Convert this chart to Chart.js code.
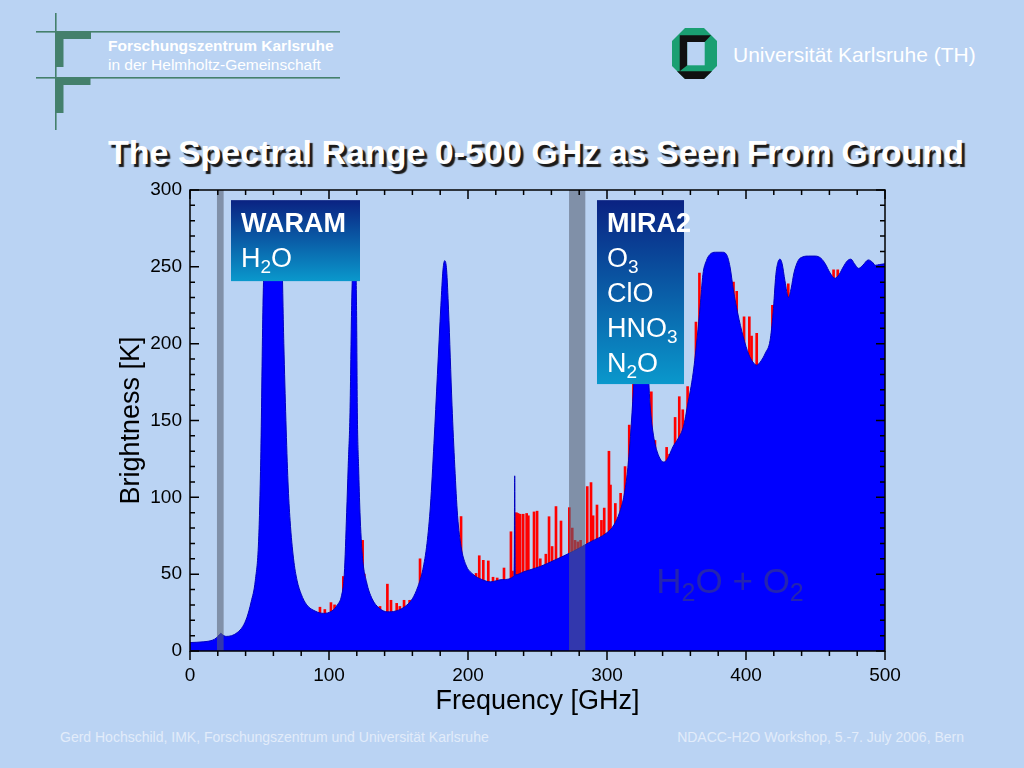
<!DOCTYPE html>
<html>
<head>
<meta charset="utf-8">
<script src="https://cdn.jsdelivr.net/npm/chart.js@4.4.0/dist/chart.umd.min.js"></script>
<style>
html,body{margin:0;padding:0}
body{width:1024px;height:768px;background:#bad3f3;position:relative;overflow:hidden;font-family:"Liberation Sans",Arial,sans-serif}
.t{position:absolute;white-space:nowrap;line-height:1;color:#fff}
#chart{position:absolute;left:0;top:0}
svg{position:absolute}
</style>
</head>
<body>
<svg style="left:0;top:0" width="360" height="140">
  <g fill="#44806c">
    <rect x="55" y="13" width="1.6" height="117"/>
    <rect x="36" y="31" width="304" height="1.6"/>
    <rect x="36" y="77" width="304" height="1.6"/>
    <rect x="55.5" y="32" width="35.5" height="7"/>
    <rect x="55.5" y="32" width="8" height="35"/>
    <rect x="55.5" y="78" width="35" height="7"/>
    <rect x="55.5" y="78" width="8" height="35"/>
  </g>
</svg>
<svg style="left:672px;top:28px" width="46" height="52">
  <polygon points="13,0 32,0 45,13 45,38 32,51 13,51 0,38 0,13" fill="#1a9f72"/>
  <polygon points="7.7,7.3 39,7.3 32.7,14 15.3,14 15.3,37.3 7.7,43.3" fill="#111"/>
  <polygon points="5,43.3 40,43.3 32,51 13,51" fill="#111"/>
  <rect x="15.3" y="14" width="17.4" height="23.3" fill="#bad3f3"/>
</svg>
<div class="t" style="left:108px;top:38px;font-size:15.5px;font-weight:bold">Forschungszentrum Karlsruhe</div>
<div class="t" style="left:108px;top:57px;font-size:15.5px">in der Helmholtz-Gemeinschaft</div>
<div class="t" style="left:733px;top:44px;font-size:21px">Universität Karlsruhe (TH)</div>
<div class="t" style="left:108px;top:135px;font-size:34px;font-weight:bold;text-shadow:3px 3px 1px #1a1a1a">The Spectral Range 0-500 GHz as Seen From Ground</div>
<div class="t" style="left:60px;top:730px;font-size:14px;color:#e2ecfa">Gerd Hochschild, IMK, Forschungszentrum und Universität Karlsruhe</div>
<div class="t" style="right:60px;top:730px;font-size:14px;color:#e2ecfa">NDACC-H2O Workshop, 5.-7. July 2006, Bern</div>
<canvas id="chart" width="1024" height="768"></canvas>
<script>
// H2O + O2 spectrum (blue)
var blueFreq = [0,10,16,19,21,22.2,23.5,26,30,34,
  38,41,44,47,49.5,51,52.5,54,56,60,
  64,66,67.5,69,70.5,72,74.5,77,80,84,
  90,96,102,106,109,111,112.7,113.8,115.1,116.3,117.3,118.3,119.3,119.8,120.4,121.3,122.3,124,127,
  131,136,142,148,154,160,164,167.5,170.5,173,175.5,178,180.5,182,183.3,
  184.6,186,188.5,190.5,192.5,195,198.5,203.5,210,216,
  225,233.2,233.6,234,240,252,262,276,288,300,
  305,309,312,314.5,316.5,318,320,322,324,325.5,
  327,329,331,333.5,336,339,341,343.5,347.5,
  351,355,358,362,365,367,369,371.5,374,378,383,386,388.5,390.9,
  394,398,402,405,407.7,411,414,417.3,
  419.5,421.5,423,424.5,426,428,430.5,432.5,
  434.5,437.5,441,445,450,454,457,460.5,464,467,
  470,473,475.5,478,481,484,488,491,493,496,500]
var blueTemp = [5.5,6,7,8.5,10.5,11.5,10.5,9.5,10,12,
  16,22,32,46,75,130,225,265,275,278,
  275,260,200,150,110,85,60,46,37,30,
  26,24.5,26,30,36,50,90,120,155,225,255,262,255,225,155,120,90,62,45,
  34,28,25.5,26,28.5,34,42,53,70,95,135,180,225,248,254,
  248,222,160,120,88,68,56,50,46.5,45,
  46.5,49,114,49.5,51.5,55,59,65,71,77,
  82,90,100,115,135,155,185,215,235,240,
  230,195,160,140,130,124,123,125,133,
  138,146,160,181,205,224,245,254,258,259.5,259.5,258,250,235,
  220,204.5,193,188,186,189,194,202,
  220,245,253,255,252,241,230,236,
  246,254,256.5,257,257,255.5,252,246,242.5,245,
  250,254,255,252,249,251,254.5,253,251,251.5,252]

// other species lines (red spikes)
var redFreq = [93.5,97,101.4,104,110.3,124.2,125.4,136.7,142,144.6,
  148.7,151,154,158,165.5,195,198,205.8,208.1,211,
  214.6,218,221,225.9,230.9,232,234.8,236,237.5,239.7,
  242.2,243.4,247.5,249.7,252,256,258.3,260.5,263.3,266.9,
  272.9,275,277,279,281,285.8,288.5,290,292.8,296,
  298,301.4,302.5,306,309.8,313,316,319,331.9,334.5,
  342.9,345,349,352,354.5,358,364,366.5,391,393.3,
  398.6,402.4,404,407.7,419,430.4,463,466]
var redTemp = [28.5,27,31.5,30,48.5,72,50,29,43.5,33,
  31,29,33,33,60,87.5,55,50.5,62,59,
  58.6,48,47.5,54,77.6,52,90,89.5,89,89,
  89.5,88,90.5,91,60,63,87.4,68,94,84.6,
  93.3,80,72,71,72,107,109.6,88,95,85,
  93,130,108,96,102.6,120,147,180,168.7,137,
  132.5,128,152,165.5,157,172,214,246,240,234,
  217.5,217.5,205,206.7,225,239,248,248]

var xTicks = [0,100,200,300,400,500]
var yTicks = [0,50,100,150,200,250,300]
var bands = [[19.4,24.2],[272.7,284.4]]
var waramLines = ['H_2O']
var miraLines = ['O_3','ClO','HNO_3','N_2O']

var FAM = '"Liberation Sans", Arial, sans-serif'

function chemText(ctx, s, x, y, size, bold){
  var parts = s.split(/_(\d)/)
  parts.forEach(function(p, i){
    if(!p) return
    var sub = i % 2 === 1
    var fs = sub ? Math.round(size*0.72) : size
    ctx.font = (bold ? 'bold ' : '') + fs + 'px ' + FAM
    ctx.fillText(p, x, sub ? y + size*0.22 : y)
    x += ctx.measureText(p).width
  })
}

function drawBox(ctx, xs, ys, b, title, lines){
  var l = xs.getPixelForValue(b.from), r = xs.getPixelForValue(b.to)
  var t = ys.getPixelForValue(b.top), bt = ys.getPixelForValue(b.bottom)
  var g = ctx.createLinearGradient(0, t, 0, bt)
  g.addColorStop(0, '#0a2282')
  g.addColorStop(1, '#0a98cc')
  ctx.fillStyle = g
  ctx.fillRect(l, t, r-l, bt-t)
  ctx.fillStyle = '#fff'
  ctx.textAlign = 'left'
  ctx.textBaseline = 'alphabetic'
  chemText(ctx, title, l+10, t+32, 27, true)
  lines.forEach(function(s, i){ chemText(ctx, s, l+10, t+32+35*(i+1), 27, false) })
}

var slideMarks = {
  id: 'slideMarks',
  afterDatasetsDraw: function(chart, args, opts){
    var ctx = chart.ctx, a = chart.chartArea, xs = chart.scales.x, ys = chart.scales.y
    ctx.save()
    // label on the blue area
    ctx.fillStyle = '#2424b0'
    ctx.textBaseline = 'alphabetic'
    chemText(ctx, 'H_2O + O_2', xs.getPixelForValue(opts.label.x), ys.getPixelForValue(opts.label.y), 35, false)
    // grey frequency bands
    ctx.fillStyle = 'rgba(86,95,113,0.58)'
    bands.forEach(function(b){
      var x0 = xs.getPixelForValue(b[0]), x1 = xs.getPixelForValue(b[1])
      ctx.fillRect(x0, a.top, x1-x0, a.bottom-a.top)
    })
    drawBox(ctx, xs, ys, opts.waram, 'WARAM', waramLines)
    drawBox(ctx, xs, ys, opts.mira, 'MIRA2', miraLines)
    // frame and ticks
    ctx.strokeStyle = '#000'
    ctx.lineWidth = 1.5
    ctx.strokeRect(a.left, a.top, a.right-a.left, a.bottom-a.top)
    ctx.beginPath()
    for(var v=0; v<=500; v+=20){
      var px = xs.getPixelForValue(v), len = v % 100 === 0 ? 9 : 5
      ctx.moveTo(px, a.bottom); ctx.lineTo(px, a.bottom+len)
      ctx.moveTo(px, a.top); ctx.lineTo(px, a.top+len)
    }
    for(var w=0; w<=300; w+=10){
      var py = ys.getPixelForValue(w), ln = w % 50 === 0 ? 9 : 5
      ctx.moveTo(a.left, py); ctx.lineTo(a.left+ln, py)
      ctx.moveTo(a.right, py); ctx.lineTo(a.right-ln, py)
    }
    ctx.stroke()
    ctx.restore()
  }
}

var blueData = blueFreq.map(function(f, i){ return {x: f, y: blueTemp[i]} })
var redData = redFreq.map(function(f, i){ return {x: f, y: redTemp[i]} })

new Chart(document.getElementById('chart'), {
  type: 'line',
  data: {
    datasets: [
      {
        label: 'H2O + O2',
        data: blueData,
        fill: 'origin',
        backgroundColor: '#0000ff',
        borderColor: '#0000c0',
        borderWidth: 1,
        pointRadius: 0,
        cubicInterpolationMode: 'monotone',
        order: 1
      },
      {
        type: 'bar',
        label: 'other species',
        data: redData,
        backgroundColor: '#ff0000',
        barThickness: 2,
        order: 2
      }
    ]
  },
  options: {
    responsive: false,
    animation: false,
    layout: {padding: {left: 110, right: 139, top: 190, bottom: 47}},
    plugins: {
      legend: {display: false},
      tooltip: {enabled: false},
      slideMarks: {
        label: {x: 335.5, y: 37.7},
        waram: {from: 29.5, to: 122.3, top: 293.4, bottom: 240.7},
        mira: {from: 292.8, to: 355.4, top: 293.4, bottom: 173.7}
      }
    },
    scales: {
      x: {
        type: 'linear', min: 0, max: 500, offset: false,
        grid: {display: false, drawTicks: false},
        border: {display: false},
        afterFit: function(s){ s.height = 70 },
        afterBuildTicks: function(s){ s.ticks = xTicks.map(function(v){ return {value: v} }) },
        ticks: {color: '#000', font: {size: 19, family: FAM}, padding: 13, maxRotation: 0, autoSkip: false},
        title: {display: true, text: 'Frequency [GHz]', color: '#000', font: {size: 27, family: FAM}, padding: {top: 0, bottom: 3}}
      },
      y: {
        type: 'linear', min: 0, max: 300,
        grid: {display: false, drawTicks: false},
        border: {display: false},
        afterFit: function(s){ s.width = 80 },
        afterBuildTicks: function(s){ s.ticks = yTicks.map(function(v){ return {value: v} }) },
        ticks: {color: '#000', font: {size: 19, family: FAM}, padding: 8},
        title: {display: true, text: 'Brightness [K]', color: '#000', font: {size: 27, family: FAM}, padding: {top: 5, bottom: 0}}
      }
    }
  },
  plugins: [slideMarks]
})
</script>
</body>
</html>
